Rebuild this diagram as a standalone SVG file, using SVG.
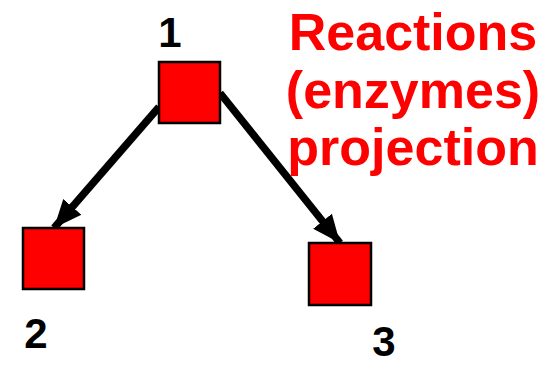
<svg xmlns="http://www.w3.org/2000/svg" width="556" height="366" viewBox="0 0 556 366">
<style>
.node{fill:#ff0000;stroke:#000;stroke-width:2.5}
.lbl{font-family:"Liberation Sans",Arial,sans-serif;font-weight:bold;font-size:42px;fill:#000}
.title{font-family:"Liberation Sans",Arial,sans-serif;font-weight:bold;font-size:52px;fill:#ff0000;text-anchor:middle}
.edge{stroke:#000;stroke-width:7.5;fill:none}
</style>
<defs>
<marker id="ah" markerUnits="userSpaceOnUse" markerWidth="30" markerHeight="30" viewBox="0 0 30 30" refX="28" refY="15" orient="auto">
<path d="M0,3 L28,15 L0,27 Z" fill="#000"/>
</marker>
</defs>
<g id="connectors">
<line class="edge" x1="159" y1="107" x2="54" y2="228" marker-end="url(#ah)"/>
<line class="edge" x1="220" y1="93" x2="340" y2="243" marker-end="url(#ah)"/>
</g>
<g id="node1"><rect class="node" x="159" y="62" width="61" height="61"/><text class="lbl" x="170" y="47" text-anchor="middle">1</text></g>
<g id="node2"><rect class="node" x="23" y="228" width="61" height="61"/><text class="lbl" x="36" y="348" text-anchor="middle">2</text></g>
<g id="node3"><rect class="node" x="309" y="243" width="62" height="62"/><text class="lbl" x="384" y="356" text-anchor="middle">3</text></g>
<g id="title">
<text class="title" x="413" y="50">Reactions</text>
<text class="title" x="413" y="108">(enzymes)</text>
<text class="title" x="413" y="165">projection</text>
</g>
</svg>
